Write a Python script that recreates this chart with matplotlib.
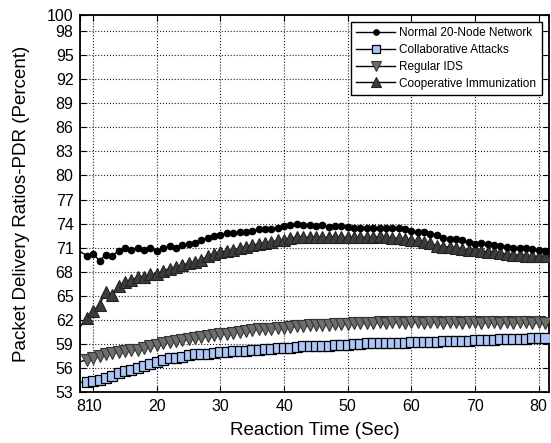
import numpy as np
import matplotlib.pyplot as plt
from matplotlib.ticker import FixedLocator

plt.rcParams['font.family'] = ['Liberation Sans', 'DejaVu Sans']

# reaction time, one sample per second
x = np.arange(8, 82)

normal = [70.5, 70.0, 70.2, 69.4, 70.1, 70.0, 70.6, 70.9, 70.7, 70.9,
          70.7, 70.9, 70.6, 70.9, 71.2, 71.0, 71.3, 71.5, 71.6, 71.9,
          72.2, 72.4, 72.6, 72.8, 72.8, 72.9, 73.0, 73.1, 73.3, 73.3,
          73.3, 73.5, 73.7, 73.8, 73.9, 73.8, 73.8, 73.7, 73.8, 73.6,
          73.7, 73.7, 73.6, 73.5, 73.5, 73.5, 73.5, 73.4, 73.5, 73.5,
          73.4, 73.3, 73.1, 73.0, 72.9, 72.7, 72.6, 72.2, 72.1, 72.1,
          71.9, 71.7, 71.5, 71.6, 71.4, 71.3, 71.2, 71.1, 71.0, 71.0,
          70.9, 70.8, 70.7, 70.6]

collab = [54.2, 54.3, 54.4, 54.5, 54.7, 55.0, 55.4, 55.6, 55.8, 56.0,
          56.3, 56.5, 56.8, 57.0, 57.2, 57.2, 57.4, 57.6, 57.7, 57.8,
          57.8, 57.9, 58.0, 58.0, 58.1, 58.1, 58.1, 58.2, 58.3, 58.4,
          58.4, 58.5, 58.5, 58.5, 58.6, 58.7, 58.7, 58.8, 58.8, 58.8,
          58.9, 58.9, 58.9, 59.0, 59.0, 59.1, 59.1, 59.1, 59.1, 59.1,
          59.1, 59.1, 59.3, 59.3, 59.3, 59.3, 59.3, 59.4, 59.4, 59.4,
          59.4, 59.4, 59.5, 59.5, 59.5, 59.5, 59.6, 59.6, 59.6, 59.6,
          59.6, 59.75, 59.75, 59.75]

regular = [56.8, 57.0, 57.2, 57.5, 57.8, 57.9, 58.0, 58.1, 58.2, 58.3,
           58.5, 58.7, 58.9, 59.1, 59.2, 59.4, 59.5, 59.6, 59.8, 59.9,
           60.0, 60.1, 60.2, 60.3, 60.4, 60.5, 60.6, 60.7, 60.8, 60.8,
           60.9, 61.0, 61.0, 61.1, 61.2, 61.2, 61.3, 61.3, 61.4, 61.4,
           61.5, 61.5, 61.5, 61.6, 61.6, 61.6, 61.6, 61.7, 61.6, 61.7,
           61.7, 61.6, 61.7, 61.7, 61.6, 61.7, 61.7, 61.6, 61.7, 61.7,
           61.6, 61.7, 61.7, 61.6, 61.7, 61.7, 61.6, 61.7, 61.6, 61.7,
           61.7, 61.6, 61.7, 61.6]

coop = [61.2, 62.2, 63.1, 63.9, 65.5, 65.1, 66.2, 66.7, 67.0, 67.3,
        67.4, 67.7, 67.7, 68.1, 68.4, 68.6, 68.8, 69.1, 69.2, 69.5,
        69.9, 70.2, 70.5, 70.6, 70.7, 70.9, 71.1, 71.3, 71.5, 71.6,
        71.7, 71.9, 72.0, 72.2, 72.3, 72.3, 72.3, 72.3, 72.3, 72.3,
        72.3, 72.3, 72.3, 72.3, 72.3, 72.3, 72.3, 72.4, 72.3, 72.2,
        72.2, 72.1, 71.9, 71.9, 71.7, 71.6, 71.2, 71.1, 71.1, 71.0,
        70.8, 70.7, 70.7, 70.6, 70.5, 70.4, 70.3, 70.2, 70.1, 70.1,
        70.0, 69.9, 69.9, 69.9]

xticks = [8, 10, 20, 30, 40, 50, 60, 70, 80]
yticks = [53, 56, 59, 62, 65, 68, 71, 74, 77, 80, 83, 86, 89, 92, 95, 98, 100]

fig = plt.figure(figsize=(5.51, 4.43), dpi=100)
ax = fig.add_axes([0.146, 0.115, 0.850, 0.851])

mk = slice(1, None)
ax.plot(x, normal, '-o', color='black', lw=1, ms=4.5, markevery=mk,
        label='Normal 20-Node Network', zorder=4)
ax.plot(x, collab, '-s', color='black', lw=1, ms=7, mfc='#aec6f7', mec='black',
        mew=0.9, markevery=mk, label='Collaborative Attacks', zorder=3)
ax.plot(x, regular, '-v', color='black', lw=1, ms=8, mfc='#6e6e6e', mec='#333333',
        mew=0.8, markevery=mk, label='Regular IDS', zorder=3)
ax.plot(x, coop, '-^', color='black', lw=1, ms=8, mfc='#3c3c3c', mec='#222222',
        mew=0.8, markevery=mk, label='Cooperative Immunization', zorder=3)

ax.set_xlim(8, 81.6)
ax.set_ylim(53, 100)
ax.xaxis.set_major_locator(FixedLocator(xticks))
ax.yaxis.set_major_locator(FixedLocator(yticks))
ax.tick_params(direction='in', top=True, right=True, labelsize=11.5, length=4, pad=5)
ax.grid(True, linestyle=':', color='#222222', linewidth=0.8)
for s in ax.spines.values():
    s.set_linewidth(1.3)

ax.set_xlabel('Reaction Time (Sec)', fontsize=13.5, labelpad=6)
ax.set_ylabel('Packet Delivery Ratios-PDR (Percent)', fontsize=13.5, labelpad=12)

leg = ax.legend(loc='upper right', fontsize=8.5, fancybox=False, framealpha=1,
                edgecolor='black', handlelength=3.3, handletextpad=0.35,
                borderpad=0.45, labelspacing=0.4, borderaxespad=0.6,
                markerscale=0.85)
leg.get_frame().set_linewidth(1)

fig.savefig('out.png', dpi=100)
